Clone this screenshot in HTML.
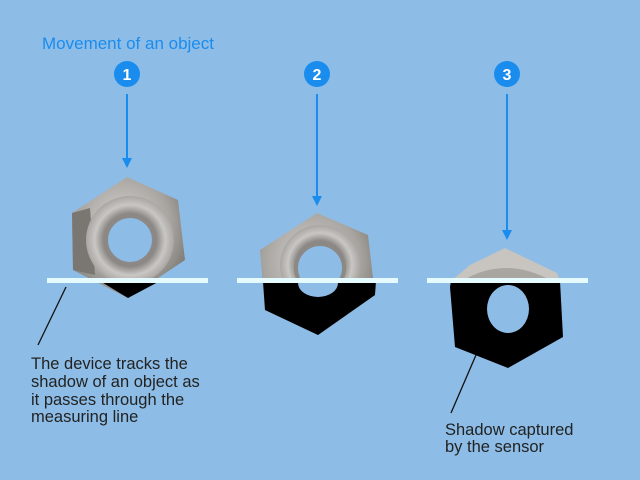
<!DOCTYPE html>
<html><head><meta charset="utf-8"><style>
html,body{margin:0;padding:0;background:#8dbde6;}
svg{display:block}
text{font-family:"Liberation Sans",sans-serif;}
</style></head><body>
<svg width="640" height="480" viewBox="0 0 640 480" xmlns="http://www.w3.org/2000/svg">
<defs>
<radialGradient id="m" cx="0.45" cy="0.4" r="0.7">
<stop offset="0" stop-color="#d8d6d4"/><stop offset="0.6" stop-color="#a8a4a0"/><stop offset="1" stop-color="#6e6a66"/>
</radialGradient>
<radialGradient id="r" cx="0.5" cy="0.5" r="0.5">
<stop offset="0.6" stop-color="#8a8784"/><stop offset="0.8" stop-color="#c9c7c4"/><stop offset="1" stop-color="#a9a6a3"/>
</radialGradient>
</defs>
<rect width="640" height="480" fill="#8dbde6"/>
<text x="42" y="49" font-size="17" fill="#1a8cee">Movement of an object</text>
<g fill="#1a8cee">
<circle cx="127" cy="74" r="13"/><circle cx="317" cy="74" r="13"/><circle cx="507" cy="74" r="13"/>
</g>
<g fill="#fff" font-size="16" font-weight="bold" text-anchor="middle">
<text x="127" y="80">1</text><text x="317" y="80">2</text><text x="507" y="80">3</text>
</g>
<g stroke="#1a8cee" stroke-width="2">
<line x1="127" y1="94" x2="127" y2="160"/>
<line x1="317" y1="94" x2="317" y2="198"/>
<line x1="507" y1="94" x2="507" y2="232"/>
</g>
<g fill="#1a8cee">
<path d="M122,158 L132,158 L127,168 z"/>
<path d="M312,196 L322,196 L317,206 z"/>
<path d="M502,230 L512,230 L507,240 z"/>
</g>
<!-- nut 1 -->
<polygon points="127,177 178,200 185,260 128,298 73,270 72,213" fill="url(#m)"/>
<polygon points="72,213 90,208 95,275 73,270" fill="#7a7672"/>
<circle cx="130" cy="240" r="44" fill="url(#r)"/>
<circle cx="130" cy="240" r="24" fill="#8dbde6" stroke="#8b8885" stroke-width="4"/>
<polygon points="100,281 160,281 128,298" fill="#000"/>
<rect x="47" y="278" width="161" height="5" fill="#e6fbff"/>
<!-- nut 2 -->
<polygon points="317,213 368,235 375,295 318,335 265,310 260,250" fill="url(#m)"/>
<circle cx="320" cy="265" r="40" fill="url(#r)"/>
<circle cx="320" cy="268" r="24" fill="#8dbde6" stroke="#8b8885" stroke-width="4"/>
<polygon points="263,281 376,281 375,295 318,335 265,310" fill="#000"/>
<ellipse cx="318" cy="283" rx="20" ry="14" fill="#8dbde6"/>
<rect x="237" y="278" width="161" height="5" fill="#e6fbff"/>
<!-- nut 3 -->
<polygon points="505,248 557,273 560,281 451,281 470,265" fill="#c8c4c0"/>
<path d="M462,281 Q505,255 552,281 z" fill="#a9a5a1"/>
<polygon points="451,281 560,281 563,337 508,368 455,347 450,287" fill="#000"/>
<ellipse cx="508" cy="309" rx="21" ry="24" fill="#8dbde6"/>
<rect x="427" y="278" width="161" height="5" fill="#e6fbff"/>
<!-- pointers -->
<line x1="66" y1="287" x2="38" y2="345" stroke="#111" stroke-width="1.3"/>
<line x1="476" y1="355" x2="451" y2="413" stroke="#111" stroke-width="1.3"/>
<g font-size="16.5" fill="#222">
<text x="31" y="369">The device tracks the</text>
<text x="31" y="387">shadow of an object as</text>
<text x="31" y="405">it passes through the</text>
<text x="31" y="422">measuring line</text>
<text x="445" y="435">Shadow captured</text>
<text x="445" y="452">by the sensor</text>
</g>
</svg>
</body></html>
